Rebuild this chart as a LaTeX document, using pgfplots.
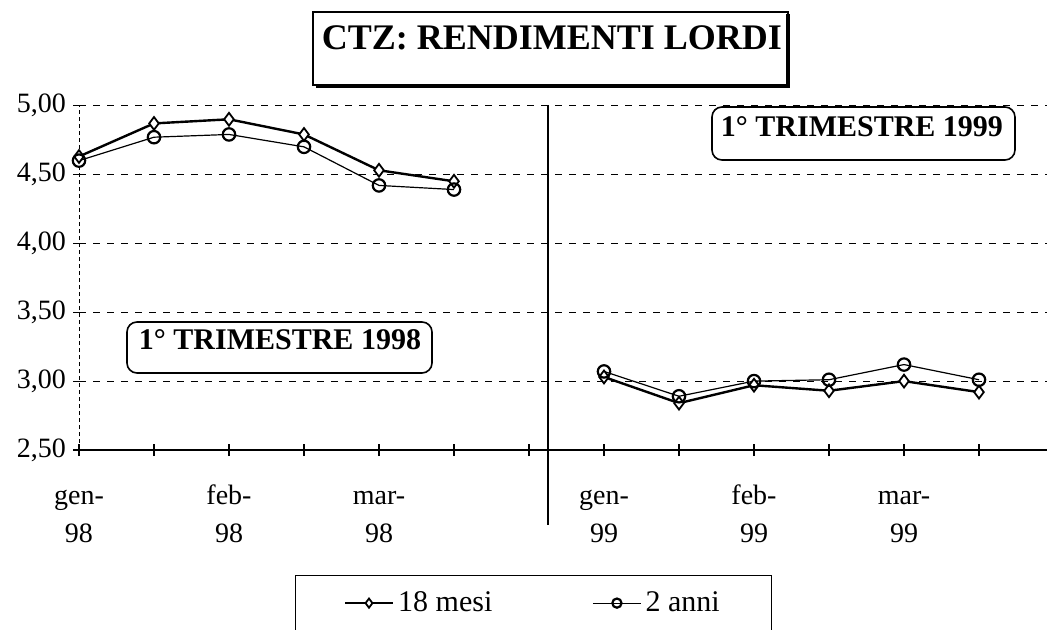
\documentclass[border=0pt]{standalone}
\usepackage{pgfplots}
\pgfplotsset{compat=1.18}
\usepackage{fontspec}
\setmainfont{Liberation Serif}
\begin{document}
\begin{tikzpicture}
\useasboundingbox (0,0) rectangle (523.5bp,-315bp);
\begin{axis}[
  at={(39.5bp,-225bp)}, anchor=south west,
  scale only axis, width=483.75bp, height=172.25bp,
  xmin=0, xmax=12.9, ymin=2.5, ymax=5,
  axis lines*=left,
  x axis line style={line width=1bp},
  y axis line style={line width=0.5bp, dash pattern=on 2bp off 1.5bp},
  xtick={0,...,12},
  xticklabels={{\strut gen-\\[2bp]98},{},{\strut feb-\\[2bp]98},{},{\strut mar-\\[2bp]98},{},{},{\strut gen-\\[2bp]99},{},{\strut feb-\\[2bp]99},{},{\strut mar-\\[2bp]99},{}},
  xticklabel style={align=center, yshift=-9bp},
  ytick={2.5,3,3.5,4,4.5,5},
  tick align=center, major tick length=6bp,
  tick style={black, line width=0.6bp},
  ymajorgrids,
  grid style={black, line width=0.5bp, dash pattern=on 3.5bp off 3.5bp},
  /pgf/number format/assume math mode=true,
  yticklabel style={/pgf/number format/fixed, /pgf/number format/fixed zerofill, /pgf/number format/precision=2, /pgf/number format/use comma},
  ticklabel style={font=\fontsize{14bp}{16.8bp}\selectfont},
  unbounded coords=jump,
  clip=false,
  legend columns=2,
  legend cell align=left,
  legend style={at={(0.47,-0.363)}, anchor=north, draw=black, line width=0.6bp,
    font=\fontsize{15bp}{17bp}\selectfont, inner xsep=24bp, inner ysep=6bp,
    /tikz/every even column/.append style={column sep=48bp}},
  legend image code/.code={\draw[mark repeat=2,mark phase=2,#1,mark size=2.3bp] plot coordinates {(0bp,0bp) (12bp,0bp) (24bp,0bp)};},
]
\addplot[black, line width=1.2bp, mark=diamond*, mark size=3.2bp, mark options={fill=white, line width=0.9bp, solid}]
  coordinates {(0,4.63)(1,4.87)(2,4.90)(3,4.79)(4,4.53)(5,4.45)(6,nan)(7,3.03)(8,2.84)(9,2.97)(10,2.93)(11,3.00)(12,2.92)};
\addlegendentry{18 mesi}
\addplot[black, line width=0.6bp, mark=o, mark size=3.1bp, mark options={fill=white, line width=1.1bp, solid}]
  coordinates {(0,4.60)(1,4.77)(2,4.79)(3,4.70)(4,4.42)(5,4.39)(6,nan)(7,3.07)(8,2.89)(9,3.00)(10,3.01)(11,3.12)(12,3.01)};
\addlegendentry{2 anni}
\end{axis}
\begin{scope}[x=0.5bp, y=-0.5bp]
  \draw[line width=1.2bp] (548,105) -- (548,525);
  \draw[line width=0.6bp, fill=white] (313,12) rectangle (788,85);
  \draw[line width=1.8bp] (788,14) -- (788,86) -- (316,86);
  \node[anchor=base, inner sep=0, font=\bfseries\fontsize{18bp}{20bp}\selectfont] at (552,49) {CTZ: RENDIMENTI LORDI};
  \draw[line width=0.8bp, rounded corners=5bp, fill=white] (712,107) rectangle (1015,160);
  \node[anchor=base, inner sep=0, font=\bfseries\fontsize{15bp}{18bp}\selectfont] at (862,137) {1° TRIMESTRE 1999};
  \draw[line width=0.8bp, rounded corners=5bp, fill=white] (127,322) rectangle (432,373);
  \node[anchor=base, inner sep=0, font=\bfseries\fontsize{15bp}{18bp}\selectfont] at (280,350) {1° TRIMESTRE 1998};
\end{scope}
\end{tikzpicture}
\end{document}
